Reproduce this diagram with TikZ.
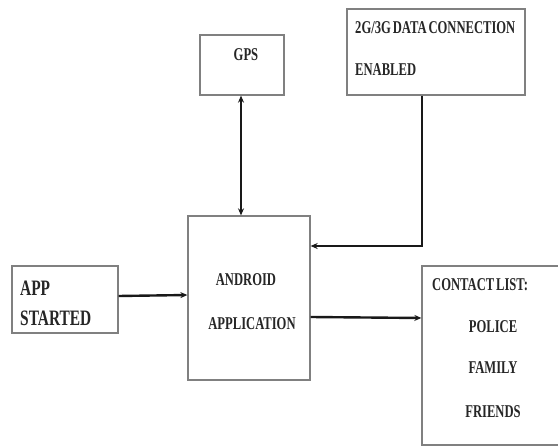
\documentclass[tikz,border=0pt]{standalone}
\usepackage{fontspec}
\newfontfamily\tnr{Liberation Serif}[FakeStretch=0.7,WordSpace=0.6]
\usetikzlibrary{arrows.meta}
\begin{document}
\begin{tikzpicture}[x=1pt,y=-1pt,
  box/.style={draw=black!50, line width=1.3pt, inner sep=0pt, fill=none},
  lbl/.style={inner sep=0pt, anchor=base west, text=black!85, font=\tnr\bfseries\fontsize{18}{18}\selectfont},
  clbl/.style={lbl, anchor=base},
  big/.style={lbl, font=\tnr\bfseries\fontsize{22}{22}\selectfont},
  conn/.style={line width=2.4pt, draw=black!90, -{Stealth[length=7pt,width=6pt]}},
  conn2/.style={conn, {Stealth[length=7pt,width=6pt]}-{Stealth[length=7pt,width=6pt]}}
]
\clip (0,0) rectangle (558,447);
\fill[white] (0,0) rectangle (558,447);
% boxes
\node[box, minimum width=84pt, minimum height=60pt] (gps) at (242,65) {};
\node[box, minimum width=178pt, minimum height=86pt] (net) at (436,52) {};
\node[box, minimum width=122pt, minimum height=164pt] (andr) at (249,298) {};
\node[box, minimum width=106pt, minimum height=67pt] (app) at (65,299.5) {};
\node[box, minimum width=200pt, minimum height=179pt] (cont) at (522,355.5) {};
% texts
\node[clbl] (tgps) at (246,60) {GPS};
\node[lbl] (tnet1) at (355,33) {2G/3G DATA CONNECTION};
\node[lbl] (tnet2) at (355,75) {ENABLED};
\node[clbl] (tand1) at (246,285) {ANDROID};
\node[clbl] (tand2) at (252,329) {APPLICATION};
\node[big] (tapp1) at (20,295) {APP};
\node[big] (tapp2) at (20,325) {STARTED};
\node[lbl] (tc0) at (432,290) {CONTACT LIST:};
\node[clbl] (tc1) at (493,332) {POLICE};
\node[clbl] (tc2) at (493,373) {FAMILY};
\node[clbl] (tc3) at (493,417) {FRIENDS};
% connectors
\coordinate (gb) at (gps.south -| 241,0);
\coordinate (at) at (andr.north -| 241,0);
\draw[conn2] (gb) -- (at);
\coordinate (nb) at (net.south -| 422,0);
\coordinate (ar) at (andr.east |- 0,246);
\draw[conn] (nb) |- (ar);
\draw[conn] (app.east |- 0,296) -- (andr.west |- 0,295);
\draw[conn] (andr.east |- 0,317) -- (cont.west |- 0,318);
\end{tikzpicture}
\end{document}
